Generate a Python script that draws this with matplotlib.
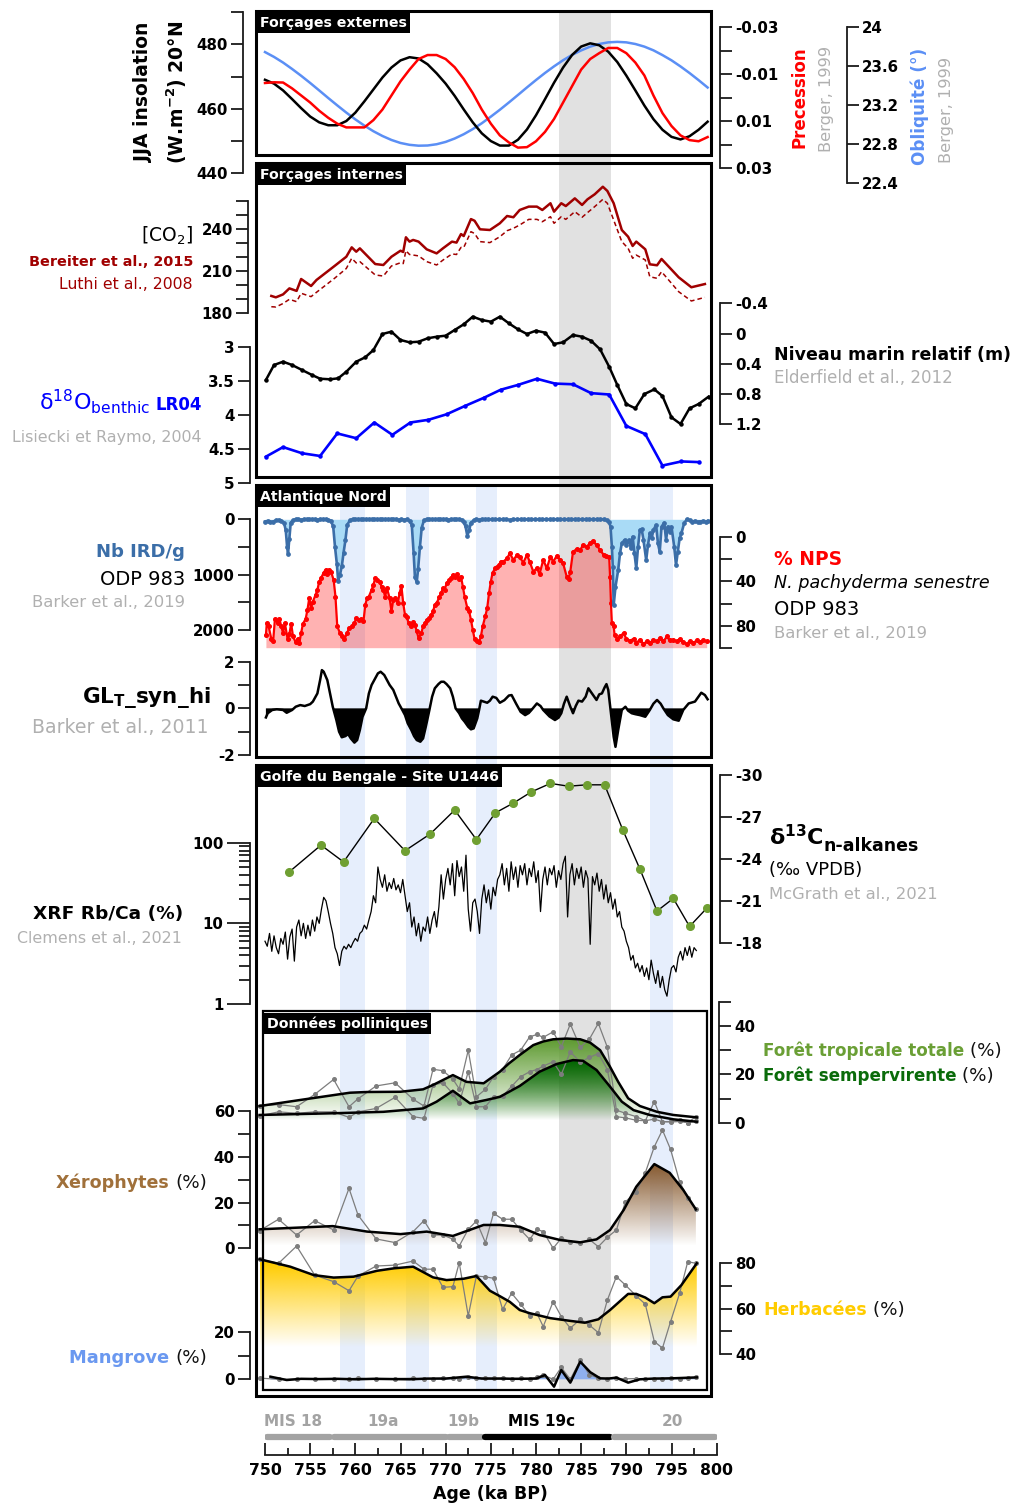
import numpy as np
import matplotlib
matplotlib.use('Agg')
import matplotlib.pyplot as plt
from matplotlib.patches import Rectangle
from matplotlib.colors import to_rgb
from matplotlib.ticker import NullFormatter

plt.rcParams['font.family'] = ['DejaVu Sans']
plt.rcParams['axes.unicode_minus'] = False
plt.rcParams['mathtext.default'] = 'regular'

# ---------------- DATA ----------------
orb_age = list(range(750, 800))
insolation = [469.0, 467.8, 465.7, 463.0, 460.2, 457.6, 455.8, 454.9, 454.9, 456.2,
              458.8, 462.3, 466.0, 469.7, 472.8, 475.0, 476.0, 475.6, 473.8, 471.0,
              467.8, 464.0, 459.8, 455.8, 452.4, 450.0, 448.6, 448.6, 450.4, 453.6,
              458.0, 463.0, 468.1, 472.8, 476.7, 479.3, 480.3, 479.7, 477.7, 474.5,
              470.3, 465.7, 461.0, 456.8, 453.5, 451.3, 450.5, 451.5, 453.5, 456.0]
precession = [-0.0063, -0.0066, -0.0065, -0.0040, -0.0010, 0.0020, 0.0055, 0.0085, 0.0110, 0.0126,
              0.0126, 0.0126, 0.0095, 0.0050, -0.0010, -0.0070, -0.0120, -0.0165, -0.0182, -0.0182,
              -0.0165, -0.0130, -0.0080, -0.0020, 0.0050, 0.0110, 0.0160, 0.0190, 0.0212, 0.0210,
              0.0185, 0.0145, 0.0090, 0.0020, -0.0050, -0.0120, -0.0165, -0.0190, -0.0212, -0.0212,
              -0.0190, -0.0150, -0.0095, -0.0010, 0.0065, 0.0120, 0.0160, 0.0180, 0.0185, 0.0167]
obliquity = [23.745, 23.695, 23.637, 23.571, 23.501, 23.427, 23.350, 23.272, 23.196, 23.122,
             23.052, 22.988, 22.930, 22.881, 22.840, 22.809, 22.790, 22.781, 22.783, 22.796,
             22.820, 22.855, 22.899, 22.952, 23.012, 23.080, 23.151, 23.226, 23.303, 23.381,
             23.457, 23.530, 23.598, 23.661, 23.716, 23.762, 23.801, 23.828, 23.845, 23.850,
             23.845, 23.828, 23.801, 23.763, 23.714, 23.660, 23.597, 23.529, 23.456, 23.380]

co2_age = [750.7, 751.2, 752.0, 752.7, 753.5, 754.0, 755.1, 755.7, 757.7, 759.0,
           759.6, 760.1, 760.5, 762.2, 763.1, 764.0, 765.0, 765.3, 765.6, 766.0,
           766.4, 767.0, 767.9, 769.0, 769.7, 770.7, 771.2, 771.7, 772.0, 772.8,
           773.2, 773.8, 774.9, 776.0, 776.8, 777.5, 778.2, 779.2, 780.1, 780.7,
           781.6, 782.0, 782.8, 783.3, 784.3, 785.1, 785.7, 786.5, 787.4, 787.9,
           788.6, 789.5, 790.2, 790.7, 791.1, 792.1, 792.6, 793.4, 793.9, 795.8,
           797.2, 798.7]
co2_bereiter = [192.4, 191.4, 193.5, 197.8, 196.0, 204.5, 199.5, 203.8, 213.8, 220.4,
                227.1, 224.0, 226.4, 215.2, 214.5, 220.4, 224.7, 223.8, 234.3, 231.2,
                232.4, 231.2, 225.7, 222.8, 226.4, 231.2, 230.5, 236.6, 235.2, 247.3,
                246.1, 240.0, 239.5, 244.3, 249.5, 248.6, 253.8, 256.2, 256.2, 253.8,
                258.6, 252.6, 258.6, 256.6, 262.1, 257.4, 261.4, 265.0, 270.4, 267.4,
                258.6, 239.5, 234.7, 228.1, 231.2, 225.7, 215.0, 214.3, 218.8, 205.7,
                198.6, 200.9]
co2_luthi = [184.7, 184.5, 187.0, 190.0, 188.3, 194.3, 191.9, 195.0, 205.0, 212.0,
             219.3, 216.0, 216.9, 207.4, 206.6, 213.8, 216.1, 215.5, 224.7, 222.0,
             221.6, 221.0, 216.9, 214.5, 218.0, 222.4, 222.0, 227.1, 227.0, 238.3,
             237.0, 231.2, 230.5, 234.7, 239.0, 240.7, 243.1, 247.1, 247.1, 245.4,
             249.0, 244.3, 249.0, 247.1, 252.6, 248.6, 251.9, 256.2, 261.4, 258.6,
             246.6, 231.2, 226.4, 219.3, 221.6, 218.1, 206.1, 205.0, 209.7, 195.4,
             188.8, 191.4]

sl_age = [750.1, 751.0, 752.0, 753.0, 754.1, 755.2, 756.1, 757.2, 758.1, 759.0,
          760.1, 761.1, 762.0, 763.0, 764.0, 765.0, 766.0, 767.0, 768.0, 769.0,
          770.0, 771.0, 772.0, 773.0, 774.0, 775.0, 776.0, 777.0, 778.0, 779.0,
          780.0, 781.0, 782.0, 783.0, 784.1, 785.1, 786.1, 787.1, 788.1, 789.0,
          790.0, 791.0, 792.0, 793.1, 794.0, 795.0, 796.0, 797.0, 798.0, 799.1]
sea_level = [0.614, 0.416, 0.372, 0.416, 0.482, 0.548, 0.597, 0.605, 0.592, 0.505,
             0.372, 0.314, 0.218, 0.006, -0.025, 0.085, 0.116, 0.108, 0.063, 0.042,
             0.028, -0.047, -0.122, -0.223, -0.179, -0.157, -0.223, -0.135, -0.056, 0.006,
             -0.038, -0.012, 0.138, 0.116, 0.019, 0.042, 0.095, 0.209, 0.439, 0.680,
             0.932, 0.989, 0.800, 0.738, 0.826, 1.108, 1.196, 0.989, 0.932, 0.835]

lr04_age = [750.1, 752.0, 754.1, 756.1, 758.0, 760.1, 762.1, 764.1, 766.1, 768.1,
            770.1, 772.1, 774.2, 776.1, 778.0, 780.1, 782.1, 784.1, 786.1, 788.1,
            790.0, 792.1, 794.0, 796.1, 798.1]
lr04 = [4.61, 4.47, 4.56, 4.60, 4.27, 4.34, 4.11, 4.29, 4.11, 4.07,
        3.99, 3.87, 3.75, 3.63, 3.56, 3.47, 3.54, 3.55, 3.68, 3.70,
        4.16, 4.28, 4.74, 4.68, 4.69]

ird_age = [750.0, 750.3, 750.6, 750.9, 751.2, 751.5, 751.8, 752.1, 752.3, 752.45,
           752.55, 752.7, 752.85, 753.1, 753.4, 753.7, 754.0, 754.3, 754.6, 754.9,
           755.2, 755.5, 755.8, 756.1, 756.4, 756.7, 757.0, 757.3, 757.55, 757.75,
           757.95, 758.1, 758.3, 758.5, 758.7, 758.9, 759.1, 759.4, 759.7, 760.0,
           760.3, 760.6, 760.9, 761.2, 761.5, 761.8, 762.1, 762.4, 762.7, 763.0,
           763.3, 763.6, 763.9, 764.2, 764.5, 764.8, 765.1, 765.4, 765.7, 766.0,
           766.25, 766.45, 766.6, 766.8, 766.95, 767.15, 767.35, 767.6, 767.9, 768.2,
           768.5, 768.8, 769.1, 769.4, 769.7, 770.0, 770.3, 770.6, 770.9, 771.2,
           771.5, 771.8, 772.0, 772.2, 772.4, 772.6, 772.8, 773.1, 773.4, 773.7,
           774.0, 774.3, 774.7, 775.1, 775.5, 775.9, 776.3, 776.7, 777.1, 777.5,
           777.9, 778.3, 778.7, 779.1, 779.5, 779.9, 780.3, 780.7, 781.1, 781.5,
           781.9, 782.3, 782.7, 783.1, 783.5, 783.9, 784.3, 784.7, 785.1, 785.5,
           785.9, 786.3, 786.7, 787.1, 787.5, 787.9, 788.1, 788.25, 788.4, 788.5,
           788.6, 788.8, 789.1, 789.3, 789.5, 789.8, 790.0, 790.3, 790.5, 790.7,
           790.9, 791.1, 791.3, 791.5, 791.7, 791.9, 792.2, 792.4, 792.6, 792.8,
           793.0, 793.3, 793.5, 793.7, 793.9, 794.2, 794.4, 794.6, 794.8, 795.0,
           795.3, 795.5, 795.7, 795.9, 796.1, 796.4, 796.7, 797.0, 797.3, 797.6,
           797.9, 798.2, 798.5, 798.8, 799.0]
ird = [40, 30, 50, 40, 20, 10, 30, 60, 200, 500,
       620, 350, 60, 20, 0, 0, 10, 0, 0, 0,
       0, 0, 10, 0, 0, 0, 10, 30, 130, 500,
       800, 1110, 1000, 850, 600, 380, 100, 20, 0, 0,
       0, 0, 0, 0, 0, 0, 0, 0, 0, 0,
       0, 0, 0, 0, 0, 10, 0, 10, 0, 30,
       100, 600, 1050, 1130, 900, 500, 150, 20, 0, 0,
       0, 0, 0, 0, 0, 0, 10, 0, 0, 0,
       0, 10, 50, 130, 300, 200, 60, 20, 0, 10,
       0, 0, 0, 0, 0, 0, 0, 0, 10, 0,
       0, 0, 0, 0, 0, 0, 0, 0, 0, 0,
       0, 0, 0, 0, 0, 0, 0, 0, 0, 0,
       0, 0, 0, 0, 0, 20, 50, 134, 495, 857,
       1550, 1220, 917, 615, 434, 374, 465, 374, 525, 314,
       615, 886, 495, 193, 180, 374, 736, 465, 253, 344,
       193, 103, 434, 586, 134, 61, 374, 134, 224, 134,
       495, 826, 586, 344, 253, 72, 0, 20, 40, 30,
       50, 40, 30, 50, 30]

nps_age = [750.1, 750.2, 750.4, 750.7, 750.9, 751.1, 751.4, 751.6, 751.8, 752.0,
           752.2, 752.5, 752.7, 752.9, 753.1, 753.4, 753.6, 753.8, 754.0, 754.2,
           754.5, 754.7, 754.9, 755.1, 755.3, 755.6, 755.8, 756.0, 756.2, 756.5,
           756.7, 756.9, 757.1, 757.3, 757.6, 757.8, 758.0, 758.3, 758.5, 758.8,
           759.1, 759.3, 759.6, 759.9, 760.1, 760.4, 760.6, 760.9, 761.1, 761.3,
           761.5, 761.8, 762.0, 762.2, 762.4, 762.7, 762.9, 763.1, 763.3, 763.5,
           763.8, 764.0, 764.2, 764.4, 764.7, 764.9, 765.1, 765.3, 765.5, 765.7,
           765.9, 766.2, 766.4, 766.6, 766.8, 767.0, 767.3, 767.5, 767.7, 767.9,
           768.2, 768.4, 768.6, 768.8, 769.0, 769.3, 769.5, 769.7, 769.9, 770.1,
           770.4, 770.6, 770.8, 771.0, 771.3, 771.5, 771.7, 771.9, 772.1, 772.4,
           772.6, 772.8, 773.0, 773.2, 773.5, 773.7, 773.9, 774.1, 774.4, 774.6,
           774.8, 775.0, 775.2, 775.5, 775.7, 775.9, 776.1, 776.4, 776.8, 777.1,
           777.5, 777.9, 778.2, 778.6, 779.0, 779.3, 779.7, 780.1, 780.4, 780.8,
           781.2, 781.6, 781.9, 782.3, 782.7, 783.0, 783.4, 783.6, 783.8, 784.1,
           784.5, 784.9, 785.2, 785.6, 786.0, 786.3, 786.7, 787.1, 787.5, 787.8,
           788.1, 788.2, 788.3, 788.4, 788.6, 788.7, 789.0, 789.3, 789.7, 790.0,
           790.4, 790.8, 791.1, 791.5, 791.9, 792.3, 792.6, 793.0, 793.4, 793.7,
           794.1, 794.5, 794.8, 795.2, 795.6, 795.9, 796.3, 796.7, 797.0, 797.4,
           797.8, 798.2, 798.5, 798.9]
nps = [88.9, 77.7, 80.7, 92, 94.3, 74, 77.7, 74, 80.7, 86.7,
       77.7, 92, 87.4, 78.3, 89.8, 95.2, 92, 95.8, 86.7, 78.3,
       74, 65.7, 55.1, 64.1, 58.2, 52.1, 47.6, 40.1, 37, 32,
       29.5, 33.4, 29.5, 31, 38.6, 53.7, 80.7, 86.7, 89.8, 92,
       86.7, 82.2, 80.7, 77.7, 73.2, 74.7, 74, 76.2, 61.2, 55.1,
       53.7, 47.6, 43.1, 37, 38.6, 40.1, 44.6, 47.6, 53.7, 46.1,
       55.1, 67.2, 56.6, 55.1, 59.6, 50.6, 44, 59.6, 70.2, 72.3,
       77.7, 80.7, 77.1, 79.2, 85.3, 91.2, 86.7, 80.7, 77.7, 74.7,
       73.2, 70.2, 67.2, 61.2, 59.6, 54.2, 50.6, 46.1, 47.6, 41.6,
       38.6, 37, 34.1, 35.6, 33.4, 37.9, 35.6, 44.6, 53.7, 64.1,
       67.2, 74.7, 83.7, 92, 94.3, 95.2, 89.8, 80.7, 71.1, 64.1,
       50.6, 40.1, 32, 28, 27.1, 25, 22, 22, 19, 14.5,
       20.5, 16, 18.1, 22.9, 16, 22, 31, 28, 33.2, 20.5,
       28, 17.5, 22, 16.9, 20.5, 23.5, 35.6, 37.9, 31, 13,
       10.8, 11.5, 7, 8.5, 5.4, 3.3, 7, 11.5, 16, 16.9,
       17.5, 35.6, 59.6, 77.7, 80.7, 88.3, 92, 89.8, 86.7, 92,
       93.7, 92, 95.8, 92.8, 96.4, 94.3, 95.8, 92.8, 94.3, 91.2,
       94.3, 89.8, 93.4, 92.8, 94.3, 92, 95.2, 96.4, 94.3, 95.8,
       93.4, 95.2, 93.4, 94.3]

glt_age = [750.1, 750.3, 750.8, 751.3, 752.0, 752.4, 753.0, 753.4, 753.9, 754.4,
           755.0, 755.3, 755.8, 756.1, 756.3, 756.5, 756.9, 757.2, 757.5, 757.9,
           758.2, 758.5, 758.9, 759.2, 759.5, 759.9, 760.2, 760.5, 760.8, 761.2,
           761.5, 761.8, 762.2, 762.5, 762.8, 763.2, 763.5, 763.8, 764.2, 764.5,
           764.8, 765.2, 765.5, 765.8, 766.2, 766.5, 766.8, 767.2, 767.5, 767.8,
           768.2, 768.5, 768.8, 769.2, 769.5, 769.8, 770.1, 770.5, 770.8, 771.1,
           771.5, 771.8, 772.1, 772.5, 772.8, 773.1, 773.5, 773.7, 773.9, 774.2,
           774.6, 774.9, 775.2, 775.6, 776.0, 776.5, 777.0, 777.3, 777.8, 778.3,
           778.8, 779.2, 779.5, 780.1, 780.5, 780.8, 781.5, 782.1, 782.5, 782.8,
           783.1, 783.4, 783.8, 784.1, 784.4, 784.7, 785.1, 785.5, 785.8, 786.2,
           786.7, 787.0, 787.3, 787.6, 787.8, 788.0, 788.3, 788.6, 788.8, 789.1,
           789.5, 789.9, 790.2, 790.6, 791.0, 791.5, 792.1, 792.6, 793.0, 793.4,
           793.8, 794.1, 794.6, 795.2, 795.8, 796.3, 796.9, 797.6, 798.3, 798.7,
           799.0]
glt = [-0.39, -0.21, -0.07, -0.04, -0.07, -0.19, -0.07, 0.07, 0.14, 0.10,
       0.18, 0.29, 0.64, 1.21, 1.64, 1.57, 1.21, 0.64, 0.07, -0.50,
       -1.00, -1.24, -1.19, -1.10, -1.29, -1.47, -1.36, -0.93, -0.36, 0.0,
       0.64, 1.00, 1.29, 1.50, 1.57, 1.43, 1.21, 1.00, 0.79, 0.50,
       0.21, -0.07, -0.29, -0.64, -0.93, -1.19, -1.36, -1.43, -1.29, -0.79,
       -0.07, 0.50, 0.86, 1.04, 1.14, 1.14, 1.04, 0.86, 0.50, 0.0,
       -0.21, -0.43, -0.57, -0.79, -0.90, -0.86, -0.43, -0.07, 0.33, 0.29,
       0.24, 0.33, 0.50, 0.45, 0.24, 0.35, 0.55, 0.57, 0.20, -0.15,
       -0.29, -0.20, -0.07, 0.21, 0.10, -0.07, -0.35, -0.50, -0.40, -0.21,
       0.20, 0.50, 0.07, -0.21, 0.10, 0.33, 0.29, 0.50, 0.86, 0.64,
       0.36, 0.60, 0.64, 0.90, 1.04, 0.79, -0.21, -1.22, -1.65, -0.93,
       -0.07, 0.07, -0.10, -0.21, -0.25, -0.29, -0.36, -0.07, 0.20, 0.36,
       0.20, 0.0, -0.29, -0.47, -0.53, -0.07, 0.21, 0.29, 0.67, 0.57,
       0.39]

# XRF Rb/Ca, one value every 0.25 ka starting at 750 ka
rbca = [6, 5.2, 7.5, 4.5, 7, 5, 4.2, 6.5,
        5.5, 7.8, 3.6, 6.8, 8.5, 3.4, 9, 11,
        7, 10, 6.5, 9.5, 7, 11, 8, 12,
        10, 15, 21, 19, 14, 10, 7.5, 5,
        4.2, 3.0, 4.5, 5.2, 4.8, 5.5, 5, 5.8,
        6.5, 6, 7.5, 8, 9.5, 8.5, 11, 14,
        22, 18, 50, 35, 28, 40, 25, 32,
        27, 36, 26, 30, 24, 35, 22, 14,
        18, 9, 12, 7, 10, 6, 9, 8,
        12, 7.5, 11, 14, 9, 16, 40, 20,
        35, 48, 30, 55, 22, 60, 38, 50,
        25, 70, 15, 8, 18, 20, 14, 7.5,
        20, 30, 18, 26, 15, 28, 22, 35,
        40, 55, 30, 48, 25, 58, 35, 50,
        28, 52, 40, 55, 30, 48, 38, 58,
        32, 45, 14, 35, 50, 30, 48, 40,
        52, 28, 45, 35, 55, 68, 12, 40,
        55, 30, 48, 36, 50, 28, 45, 36,
        5.5, 38, 30, 42, 25, 35, 20, 30,
        18, 24, 15, 20, 12, 14, 9, 8,
        6, 5, 3.5, 4, 2.8, 3.2, 2.5, 3,
        2.2, 2.8, 2, 3.5, 2.4, 1.8, 2.6, 1.6,
        2.2, 1.5, 1.25, 2, 2.8, 3, 2.5, 3.8,
        4.5, 3.5, 5, 4, 5.2, 3.8, 5, 4.6]
rbca_step = 0.25

d13c_age = [752.7, 756.2, 758.7, 762.1, 765.5, 768.3, 771.0, 773.4, 775.5, 777.5,
            779.5, 781.6, 783.6, 785.6, 787.6, 789.6, 791.5, 793.4, 795.2, 797.0, 798.9]
d13c = [-23.1, -25.0, -23.8, -26.9, -24.6, -25.8, -27.5, -25.4, -27.3, -28.0,
        -28.8, -29.4, -29.2, -29.3, -29.3, -26.1, -23.3, -20.3, -21.2, -19.2, -20.5]

pol_age = [749.4, 751.5, 753.5, 755.5, 757.6, 759.3, 760.3, 762.3, 764.4, 766.4,
           767.6, 768.6, 769.7, 770.8, 771.5, 772.5, 773.4, 774.4, 775.3, 776.3,
           777.3, 778.3, 779.3, 780.1, 780.8, 781.9, 782.8, 783.8, 784.9, 785.9,
           786.9, 787.9, 788.9, 789.9, 791.1, 792.1, 793.1, 794.0, 794.9, 795.9,
           796.8, 797.7]
forest_raw = [6.9, 7.5, 6.6, 11.7, 17.9, 6.6, 9.9, 15.2, 16.5, 9.7,
              6.9, 22.1, 21.5, 18.0, 14.0, 30.0, 10.7, 13.8, 19.0, 22.0,
              28.0, 30.0, 35.5, 36.5, 35.3, 37.6, 31.4, 40.8, 31.2, 34.5,
              41.1, 31.2, 5.2, 3.9, 2.5, 0.8, 8.7, 0.4, 0.5, 1.0,
              0.0, 2.5]
evergreen_raw = [2.8, 4.5, 3.9, 4.5, 4.5, 2.2, 4.5, 5.9, 10.5, 2.5,
                 1.8, 15.6, 16.5, 12.0, 8.0, 21.1, 6.6, 6.6, 10.7, 11.0,
                 15.0, 19.0, 21.1, 22.0, 23.4, 25.2, 20.0, 29.3, 25.0, 27.0,
                 28.6, 22.0, 2.5, 2.0, 1.0, 0.8, 1.5, 0.4, 0.3, 0.5,
                 0.0, 0.8]
xero_raw = [7.7, 12.7, 5.8, 12.1, 8.0, 26.2, 14.5, 4.1, 2.5, 7.3,
            12.1, 5.8, 5.8, 4.0, 1.0, 8.3, 11.9, 2.5, 15.3, 12.7,
            12.7, 8.0, 3.9, 8.3, 7.3, 0.0, 4.4, 2.9, 2.2, 3.9,
            0.7, 4.8, 8.0, 20.3, 24.7, 33.0, 44.4, 51.7, 43.2, 29.1,
            22.0, 17.0]
herb_raw = [81.8, 80.0, 87.6, 74.8, 71.9, 67.9, 74.4, 78.8, 79.2, 81.0,
            77.4, 77.4, 69.4, 69.7, 80.3, 56.8, 74.4, 74.0, 73.4, 59.7,
            66.8, 62.0, 56.8, 58.0, 52.1, 63.1, 56.5, 51.4, 55.3, 52.8,
            49.4, 63.8, 74.1, 70.4, 65.6, 62.0, 45.5, 42.6, 54.3, 66.8,
            80.7, 80.0]
mangrove_raw = [0.5, 0.0, 0.0, 0.3, 0.0, 0.2, 0.5, 0.0, 0.3, 0.5,
                0.0, 0.3, 0.5, 0.4, 0.3, 0.8, 0.5, 0.6, 0.4, 0.5,
                0.2, 0.4, 0.3, 0.8, 1.8, 0.0, 5.0, 0.0, 8.0, 2.0,
                0.5, 0.3, 0.4, 0.2, 0.3, 0.0, 0.3, 0.2, 0.5, 0.3,
                0.4, 0.8]

forest_s_age = [749.4, 753.9, 759.4, 761.3, 765.0, 767.5, 768.6, 770.8, 772.3, 774.2,
                776.0, 777.0, 778.2, 779.7, 780.8, 781.9, 783.4, 784.9, 786.0, 787.1,
                788.2, 789.1, 790.2, 791.5, 793.4, 795.2, 797.8]
forest_s = [6.9, 9.4, 12.4, 12.7, 12.8, 13.8, 15.6, 19.7, 16.9, 16.3,
            21.1, 24.5, 28.0, 32.1, 33.6, 34.5, 34.8, 34.5, 33.1, 30.0,
            23.1, 16.9, 10.1, 6.9, 4.5, 3.2, 2.2]
evergreen_s_age = [749.4, 757.5, 763.1, 767.5, 769.0, 770.8, 772.7, 774.5, 776.0, 778.2,
                   780.4, 782.3, 784.1, 785.2, 786.7, 788.2, 789.5, 790.8, 792.6, 795.2, 797.8]
evergreen_s = [3.2, 3.9, 4.5, 5.9, 8.7, 13.2, 8.0, 9.4, 10.7, 15.2,
               21.1, 24.3, 25.9, 25.6, 21.8, 14.9, 8.7, 5.2, 3.2, 1.4, 0.4]
xero_s_age = [749.4, 757.5, 761.3, 765.0, 767.9, 770.8, 774.2, 776.0, 778.2, 780.4,
              782.7, 784.9, 786.7, 788.2, 789.7, 791.1, 793.1, 794.8, 796.3, 797.7]
xero_s = [8.3, 9.7, 7.3, 6.2, 7.3, 5.4, 10.2, 10.2, 9.4, 5.8,
          3.6, 2.6, 3.9, 8.0, 16.7, 26.9, 36.8, 33.0, 25.5, 17.0]
herb_s_age = [749.4, 752.8, 755.4, 757.6, 759.8, 762.4, 764.3, 766.4, 768.6, 770.1,
              772.0, 773.4, 774.9, 776.0, 777.1, 778.2, 779.3, 781.6, 783.8, 785.4,
              786.9, 788.2, 790.2, 791.1, 792.1, 793.1, 794.0, 794.9, 796.1, 797.8]
herb_s = [81.8, 78.5, 74.8, 73.7, 74.1, 76.7, 77.8, 78.5, 73.8, 72.6,
          73.2, 74.4, 67.9, 65.5, 63.0, 59.4, 58.0, 55.8, 54.6, 53.8,
          55.3, 59.4, 66.5, 66.5, 64.9, 62.4, 65.0, 65.3, 70.4, 80.0]
mangrove_s_age = [750.6, 752.4, 754.0, 756.0, 758.0, 760.0, 762.0, 764.0, 766.0, 768.0,
                  770.0, 772.3, 774.0, 776.0, 778.0, 780.0, 781.0, 782.0, 782.8, 783.8,
                  784.9, 786.0, 787.1, 788.0, 788.9, 790.2, 791.5, 793.0, 795.0, 797.8]
mangrove_s = [1.1, -0.3, 0.2, 0.1, 0.2, 0.0, 0.2, 0.1, 0.0, 0.3,
              0.3, 1.1, 0.3, 0.3, 0.2, 0.3, 1.8, -3.1, 3.9, -1.4,
              7.4, 3.0, 0.4, 0.3, 0.7, -1.4, 0.0, 0.3, 0.4, 0.8]

grey_band = (782.6, 788.3)
blue_bands = [(758.3, 761.1), (765.6, 768.2), (773.4, 775.7), (792.6, 795.2)]

mis_names = ['MIS 18', '19a', '19b', 'MIS 19c', '20']
mis_bounds = [(750.2, 757.2), (757.6, 770.0), (770.4, 774.0), (774.3, 788.2), (788.6, 799.8)]
mis_label_x = [753.1, 763.1, 771.9, 780.6, 795.1]
mis_colors = ['#a3a3a3', '#a3a3a3', '#a3a3a3', '#000000', '#a3a3a3']

# ---------------- LAYOUT ----------------
W, H = 1014, 1505
fig = plt.figure(figsize=(W / 100, H / 100), dpi=100)

PX750, PXKA = 265.0, 9.033
X0, X1 = 255, 712


def ka(px):
    return 750 + (px - PX750) / PXKA


XLIM = (ka(X0), ka(X1))
GREY = '#b0b0b0'
SPC = '#1a1a1a'
TICK = 10.8

bg = fig.add_axes([X0 / W, 1 - 1397 / H, (X1 - X0) / W, (1397 - 10) / H])
bg.set_xlim(*XLIM)
bg.set_ylim(1397, 10)
bg.axis('off')
bg.set_zorder(-5)
bg.add_patch(Rectangle((grey_band[0], 12), grey_band[1] - grey_band[0], 1390 - 12,
                       fc='#e1e1e1', ec='none'))
for a, b in blue_bands:
    bg.add_patch(Rectangle((a, 486), b - a, 1390 - 486, fc='#e6eefc', ec='none'))

ov = fig.add_axes([0, 0, 1, 1])
ov.set_xlim(0, W)
ov.set_ylim(H, 0)
ov.axis('off')
ov.patch.set_visible(False)
ov.set_zorder(30)


def T(x, y, s, ha='left', va='baseline', **kw):
    return ov.text(x, y, s, ha=ha, va=va, **kw)


def chain(t, s, y, side='right', **kw):
    if side == 'right':
        return ov.annotate(s, xy=(1, y), xycoords=(t, 'data'), ha='left', va='baseline',
                           annotation_clip=False, **kw)
    return ov.annotate(s, xy=(0, y), xycoords=(t, 'data'), ha='right', va='baseline',
                       annotation_clip=False, **kw)


def data_ax(ytop, ybot, cal, log=False, z=1):
    (v1, p1), (v2, p2) = cal
    ax = fig.add_axes([X0 / W, 1 - ybot / H, (X1 - X0) / W, (ybot - ytop) / H])
    if log:
        ax.set_yscale('log')
        f, g = np.log10, (lambda u: 10 ** u)
    else:
        f, g = (lambda v: v), (lambda u: u)
    s = (f(v2) - f(v1)) / (p2 - p1)
    ax.set_ylim(g(f(v1) + (ybot - p1) * s), g(f(v1) + (ytop - p1) * s))
    ax.set_xlim(*XLIM)
    ax.set_autoscale_on(False)
    ax.patch.set_visible(False)
    for sp in ax.spines.values():
        sp.set_visible(False)
    ax.tick_params(axis='x', which='both', bottom=False, labelbottom=False, top=False, labeltop=False)
    ax.tick_params(axis='y', which='both', left=False, labelleft=False, right=False, labelright=False)
    ax.set_zorder(z)
    return ax


def yaxis(ax, side, xpx, lo, hi, major, minor=(), labels=None, L=8.6, Lm=None):
    sp = ax.spines[side]
    sp.set_visible(True)
    sp.set_position(('axes', (xpx - X0) / (X1 - X0)))
    sp.set_bounds(lo, hi)
    sp.set_linewidth(1.3)
    sp.set_color(SPC)
    if labels is None:
        labels = ['%g' % m for m in major]
    ax.set_yticks(major, labels)
    ax.set_yticks(list(minor), minor=True)
    ax.yaxis.set_minor_formatter(NullFormatter())
    left = side == 'left'
    ax.tick_params(axis='y', which='both', left=left, labelleft=left, right=not left,
                   labelright=not left, direction='out', width=1.3, color=SPC,
                   labelsize=TICK, pad=2.5)
    ax.tick_params(axis='y', which='major', length=L)
    ax.tick_params(axis='y', which='minor', length=Lm if Lm else L)
    for t in ax.get_yticklabels():
        t.set_fontweight('bold')


def grad_fill(ax, x, y, base, color, v0, v1, z):
    x = np.asarray(x, float)
    y = np.asarray(y, float)
    poly = ax.fill_between(x, base, y, facecolor='none', edgecolor='none')
    top = max(y.max(), v1)
    vv = np.linspace(base, top, 300)
    a = np.clip((vv - v0) / (v1 - v0), 0, 1)
    img = np.zeros((300, 2, 4))
    img[..., :3] = to_rgb(color)
    img[..., 3] = a[:, None]
    im = ax.imshow(img, extent=[x.min(), x.max(), base, top], origin='lower',
                   aspect='auto', interpolation='bilinear', zorder=z)
    im.set_clip_path(poly.get_paths()[0], transform=ax.transData)


def frame(x0, y0, x1, y1, lw=2.2):
    fig.add_artist(Rectangle((x0 / W, 1 - y1 / H), (x1 - x0) / W, (y1 - y0) / H,
                             transform=fig.transFigure, fill=False, ec='black', lw=lw, zorder=20))


def title(x, y, s):
    T(x, y, s, va='center', color='white', weight='bold', fontsize=10.2,
      bbox=dict(boxstyle='square,pad=0.22', fc='black', ec='none'))


# ---------- Panel 1: external forcing ----------
ax_obl = data_ax(20, 190, ((24, 27.3), (22.4, 182.7)), z=1)
ax_obl.plot(orb_age, obliquity, color='#5b8ff5', lw=1.8)
yaxis(ax_obl, 'right', 846.7, 22.4, 24, [22.4, 22.8, 23.2, 23.6, 24.0],
      labels=['22.4', '22.8', '23.2', '23.6', '24'])

ax_ins = data_ax(12, 175, ((480, 44.3), (440, 173.3)), z=2)
ax_ins.plot(orb_age, insolation, color='black', lw=1.8)
yaxis(ax_ins, 'left', 243.3, 440, 490, [440, 460, 480], [450, 470, 490])

ax_pre = data_ax(20, 175, ((-0.03, 27.3), (0.03, 168.3)), z=3)
ax_pre.plot(orb_age, precession, color='#ff0000', lw=1.8)
yaxis(ax_pre, 'right', 720, -0.03, 0.03, [-0.03, -0.01, 0.01, 0.03], [-0.02, 0.0, 0.02],
      labels=['-0.03', '-0.01', '0.01', '0.03'])

T(143, 92, 'JJA insolation', ha='center', va='center', rotation=90, fontsize=13.5, weight='bold')
T(177, 92, r'(W.m$^{\mathbf{-2}}$) 20°N', ha='center', va='center', rotation=90,
  fontsize=13.5, weight='bold')
T(800, 97, 'Precession', ha='center', va='center', rotation=90, fontsize=12, weight='bold',
  color='#ff0000')
T(826, 99, 'Berger, 1999', ha='center', va='center', rotation=90, fontsize=11.7, color=GREY)
T(920, 106, 'Obliquité (°)', ha='center', va='center', rotation=90, fontsize=12.2,
  weight='bold', color='#5b8ff5')
T(946, 110, 'Berger, 1999', ha='center', va='center', rotation=90, fontsize=11.7, color=GREY)

# ---------- Panel 2: internal forcing ----------
DRED = '#a00000'
ax_co2 = data_ax(180, 316, ((240, 229.3), (180, 313.3)), z=2)
ax_co2.plot(co2_age, co2_luthi, color=DRED, lw=1.1, ls=(0, (3, 2)))
ax_co2.plot(co2_age, co2_bereiter, color=DRED, lw=1.8)
yaxis(ax_co2, 'left', 248.3, 180, 260, [180, 210, 240], [190, 200, 220, 230, 250, 260])

ax_sl = data_ax(298, 432, ((-0.4, 303.3), (1.2, 424.3)), z=2)
ax_sl.plot(sl_age, sea_level, color='black', lw=1.8, marker='o', ms=2.2)
yaxis(ax_sl, 'right', 720, -0.4, 1.2, [-0.4, 0, 0.4, 0.8, 1.2],
      labels=['-0.4', '0', '0.4', '0.8', '1.2'])

ax_lr = data_ax(340, 486, ((3, 346.7), (5, 483.3)), z=2)
ax_lr.plot(lr04_age, lr04, color='#0000ff', lw=1.9, marker='o', ms=2.2)
yaxis(ax_lr, 'left', 250, 3, 5, [3, 3.5, 4, 4.5, 5])

T(193, 242, '[CO$_2$]', ha='right', fontsize=13.5)
T(193, 266, 'Bereiter et al., 2015', ha='right', fontsize=10.4, weight='bold', color=DRED)
T(193, 289, 'Luthi et al., 2008', ha='right', fontsize=11.3, color=DRED)
T(202, 410, 'LR04', ha='right', fontsize=12, weight='bold', color='#0000ff')
T(150, 410, r'δ$^{18}$O$_{benthic}$', ha='right', fontsize=16, color='#0000ff')
T(202, 442, 'Lisiecki et Raymo, 2004', ha='right', fontsize=11.4, color=GREY)
T(774, 360, 'Niveau marin relatif (m)', fontsize=12.5, weight='bold')
T(774, 383, 'Elderfield et al., 2012', fontsize=12, color=GREY)

# ---------- Panel 3: North Atlantic ----------
IRDC = '#3b6ea8'
ax_nps = data_ax(530, 652, ((0, 537.3), (100, 647.7)), z=2)
ax_nps.fill_between(nps_age, nps, 100, color='#ff0000', alpha=0.3, lw=0)
ax_nps.plot(nps_age, nps, color='#ff0000', lw=1.6, marker='o', ms=2.6)
yaxis(ax_nps, 'right', 720, 0, 100, [0, 40, 80], [20, 60, 100])

ax_ird = data_ax(512, 650, ((0, 519.3), (2000, 630)), z=3)
ax_ird.fill_between(ird_age, 0, ird, color='#a9dbf6', lw=0)
ax_ird.plot(ird_age, ird, color=IRDC, lw=1.9, marker='o', ms=2.4)
yaxis(ax_ird, 'left', 250, 0, 2000, [0, 1000, 2000], [500, 1500])

ax_glt = data_ax(655, 757, ((2, 661.7), (-2, 755)), z=2)
gv = np.asarray(glt)
ax_glt.fill_between(glt_age, 0, gv, where=gv < 0, interpolate=True, color='black', lw=0)
ax_glt.plot(glt_age, glt, color='black', lw=1.8)
yaxis(ax_glt, 'left', 250, -2, 2, [-2, 0, 2], [-1, 1])

T(185, 557, 'Nb IRD/g', ha='right', fontsize=13, weight='bold', color=IRDC)
T(185, 585, 'ODP 983', ha='right', fontsize=14)
T(185, 607, 'Barker et al., 2019', ha='right', fontsize=11.8, color=GREY)
T(211, 703, r'GL$_{\mathbf{T}}$_syn_hi', ha='right', fontsize=15.5, weight='bold')
T(208, 733, 'Barker et al., 2011', ha='right', fontsize=13.6, color=GREY)
T(774, 565, '% NPS', fontsize=13.4, weight='bold', color='#ff0000')
T(774, 588, 'N. pachyderma senestre', fontsize=12.6, style='italic')
T(774, 615, 'ODP 983', fontsize=14)
T(774, 638, 'Barker et al., 2019', fontsize=11.8, color=GREY)

# ---------- Panel 4: Bay of Bengal ----------
ax_rb = data_ax(830, 1008, ((100, 842.7), (1, 1004)), log=True, z=2)
rb_age = 750 + rbca_step * np.arange(len(rbca))
ax_rb.plot(rb_age, rbca, color='black', lw=0.9)
yaxis(ax_rb, 'left', 250, 1, 100, [1, 10, 100],
      [2, 3, 4, 5, 6, 7, 8, 9, 20, 30, 40, 50, 60, 70, 80, 90], L=16.5, Lm=7.7)

ax_c13 = data_ax(770, 950, ((-30, 775), (-18, 943.3)), z=3)
ax_c13.plot(d13c_age, d13c, color='black', lw=1.0, marker='o', ms=5.5,
            mfc='#6f9f32', mec='#6f9f32')
yaxis(ax_c13, 'right', 720, -30, -18, [-30, -27, -24, -21, -18])

T(183, 919, 'XRF Rb/Ca (%)', ha='right', fontsize=13.3, weight='bold')
T(182, 943, 'Clemens et al., 2021', ha='right', fontsize=11.4, color=GREY)
td = T(769, 845, r'δ$^{\mathbf{13}}$C', fontsize=16, weight='bold')
chain(td, 'n-alkanes', 851, fontsize=12.5, weight='bold')
T(769, 875, '(‰ VPDB)', fontsize=13)
T(769, 899, 'McGrath et al., 2021', fontsize=11.8, color=GREY)

# ---------- Pollen ----------
RAWC = '#7d7d7d'
ax_for = data_ax(1000, 1126, ((0, 1122.7), (40, 1026)), z=2)
grad_fill(ax_for, forest_s_age, forest_s, 0, '#5f9b32', 1.5, 34, 1)
grad_fill(ax_for, evergreen_s_age, evergreen_s, 0, '#006400', 1.0, 26, 1.2)
ax_for.plot(pol_age, forest_raw, color=RAWC, lw=0.9, marker='o', ms=2.6, zorder=2)
ax_for.plot(pol_age, evergreen_raw, color=RAWC, lw=0.9, marker='o', ms=2.6, zorder=2)
ax_for.plot(forest_s_age, forest_s, color='black', lw=1.8, zorder=3)
ax_for.plot(evergreen_s_age, evergreen_s, color='black', lw=1.8, zorder=3)
yaxis(ax_for, 'right', 719, 0, 50, [0, 20, 40], [10, 30, 50])

ax_xer = data_ax(1105, 1252, ((60, 1111), (0, 1248.3)), z=2)
grad_fill(ax_xer, xero_s_age, xero_s, 0, '#86582c', 1.0, 37, 1)
ax_xer.plot(pol_age, xero_raw, color=RAWC, lw=0.9, marker='o', ms=2.6, zorder=2)
ax_xer.plot(xero_s_age, xero_s, color='black', lw=1.8, zorder=3)
yaxis(ax_xer, 'left', 250, 0, 60, [0, 20, 40, 60], [10, 30, 50])

ax_her = data_ax(1240, 1362, ((80, 1263.3), (40, 1354)), z=2)
grad_fill(ax_her, herb_s_age, herb_s, 40, '#ffcc00', 43, 80, 1)
ax_her.plot(pol_age, herb_raw, color=RAWC, lw=0.9, marker='o', ms=2.6, zorder=2)
ax_her.plot(herb_s_age, herb_s, color='black', lw=1.8, zorder=3)
yaxis(ax_her, 'right', 720, 40, 80, [40, 60, 80], [50, 70])

ax_man = data_ax(1325, 1392, ((20, 1331.7), (0, 1379.3)), z=2)
mv = np.asarray(mangrove_s)
ax_man.fill_between(mangrove_s_age, 0, mv, where=mv > 0, interpolate=True,
                    color='#8fb0ee', lw=0, zorder=1)
ax_man.plot(pol_age, mangrove_raw, color=RAWC, lw=0.9, marker='o', ms=2.6, zorder=2)
ax_man.plot(mangrove_s_age, mangrove_s, color='black', lw=1.8, zorder=3)
yaxis(ax_man, 'left', 250, 0, 20, [0, 20], [10])

PCT = dict(fontsize=13.2, color='#111111')
t1 = T(763, 1056, 'Forêt tropicale totale', fontsize=12.1, weight='bold', color='#6a9f35')
chain(t1, ' (%)', 1056, **PCT)
t2 = T(763, 1081, 'Forêt sempervirente', fontsize=12.1, weight='bold', color='#0a6b0a')
chain(t2, ' (%)', 1081, **PCT)
t3 = T(763, 1315, 'Herbacées', fontsize=12.5, weight='bold', color='#ffcc00')
chain(t3, ' (%)', 1315, **PCT)
t4 = T(207, 1188, '(%)', ha='right', **PCT)
chain(t4, 'Xérophytes ', 1188, side='left', fontsize=12.6, weight='bold', color='#a0703a')
t5 = T(207, 1363, '(%)', ha='right', **PCT)
chain(t5, 'Mangrove ', 1363, side='left', fontsize=12.9, weight='bold', color='#6a98f0')

# ---------- Frames and titles ----------
frame(256, 11, 711, 155)
frame(256, 163, 711, 477)
frame(256, 485, 711, 757)
frame(256, 765, 711, 1396)
frame(263, 1011, 707, 1390, lw=1.6)
title(260, 23, 'Forçages externes')
title(260, 175, 'Forçages internes')
title(260, 497, 'Atlantique Nord')
title(260, 777, 'Golfe du Bengale - Site U1446')
title(267, 1023.5, 'Données polliniques')

# ---------- Age axis with MIS bar ----------
ax_age = fig.add_axes([265 / W, 1 - 1455 / H, (716.7 - 265) / W, 35 / H])
ax_age.set_xlim(750, 800)
ax_age.set_ylim(0, 1)
ax_age.patch.set_visible(False)
for k, sp in ax_age.spines.items():
    sp.set_visible(k == 'bottom')
ax_age.spines['bottom'].set_linewidth(1.3)
ax_age.spines['bottom'].set_color(SPC)
ax_age.set_xticks(list(range(750, 801, 5)))
ax_age.set_xticks([752.5 + 5 * i for i in range(10)], minor=True)
ax_age.tick_params(axis='x', which='both', direction='in', width=1.3, color=SPC,
                   labelsize=11.3, pad=5.5)
ax_age.tick_params(axis='x', which='major', length=8.6)
ax_age.tick_params(axis='x', which='minor', length=5)
ax_age.tick_params(axis='y', left=False, labelleft=False)
for t in ax_age.get_xticklabels():
    t.set_fontweight('bold')
for (a, b), c, nm, lx in zip(mis_bounds, mis_colors, mis_names, mis_label_x):
    ax_age.plot([a, b], [0.51, 0.51], color=c, lw=4.5, solid_capstyle='round')
    ax_age.text(lx, 0.95, nm, ha='center', va='center', fontsize=11, weight='bold', color=c)
T(490, 1494, 'Age (ka BP)', ha='center', va='center', fontsize=12.5, weight='bold')

fig.savefig('out.png', dpi=100)
